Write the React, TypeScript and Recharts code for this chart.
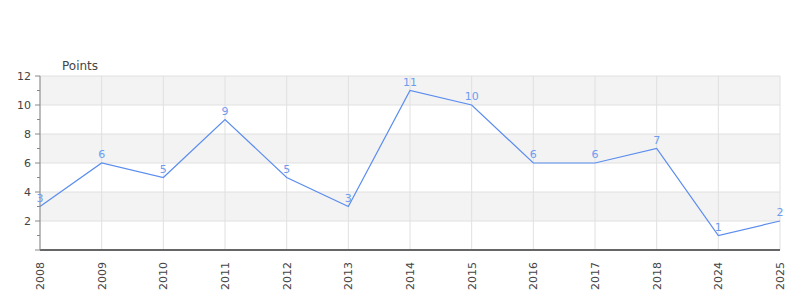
import {CartesianGrid, LabelList, Line, LineChart, ReferenceArea, ReferenceLine, XAxis, YAxis} from "recharts";

const years = ["2008", "2009", "2010", "2011", "2012", "2013", "2014", "2015", "2016", "2017", "2018", "2024", "2025"];
const points = [3, 6, 5, 9, 5, 3, 11, 10, 6, 6, 7, 1, 2];
const yTicks = [0, 1, 2, 3, 4, 5, 6, 7, 8, 9, 10, 11, 12];
const gridValues = [2, 4, 6, 8, 10, 12];
const bands = [[2, 4], [6, 8], [10, 12]];

const data = years.map((year, i) => ({year, points: points[i]}));

const LINE = "#5b8def";
const LABEL = "#6e9cf0";
const TEXT = "#444";
const FONT = "DejaVu Sans, sans-serif";

const YTick = ({x, y, payload}: any) => {
    const v = payload.value as number;
    const major = v % 2 === 0;
    return (
        <g>
            <line x1={x + (major ? 3 : 5)} x2={x + 8} y1={y} y2={y} stroke="#888"/>
            {major && v > 0 && (
                <text x={x - 1} y={y} dy={4} textAnchor="end" fontSize={11} fill={TEXT} fontFamily={FONT}>{v}</text>
            )}
        </g>
    );
};

const XTick = ({x, y, payload}: any) => (
    <text transform={`translate(${x + 4},${y + 4}) rotate(-90)`} textAnchor="end" fontSize={11} fill={TEXT} fontFamily={FONT}>
        {payload.value}
    </text>
);

const App = (): React.JSX.Element => {
    return (
        <div style={{position: "absolute", left: 0, top: 0, width: 800, height: 300, background: "#fff"}}>
            <LineChart data={data} width={800} height={300} margin={{top: 76, right: 20, bottom: 0, left: 0}}>
                <CartesianGrid horizontal={false} vertical={false}/>
                {bands.map(([a, b]) => (
                    <ReferenceArea key={a} y1={a} y2={b} fill="#f3f3f3" fillOpacity={1} stroke="none" ifOverflow="visible"/>
                ))}
                {years.map(yr => (
                    <ReferenceLine key={yr} x={yr} stroke="#e0e0e0"/>
                ))}
                {gridValues.map(v => (
                    <ReferenceLine key={v} y={v} stroke="#e0e0e0"/>
                ))}
                <XAxis dataKey="year" scale="point" padding={{left: 0, right: 0}} height={50}
                       axisLine={{stroke: "#666", strokeWidth: 2}} tickLine={false} tickSize={6} tickMargin={2}
                       interval={0} tick={<XTick/>}/>
                <YAxis domain={[0, 12]} ticks={yTicks} interval={0} width={40} tickLine={false} tickSize={5} tickMargin={3}
                       axisLine={{stroke: "#888"}} tick={<YTick/>}
                       label={{value: "Points", position: "insideTopLeft", dx: 57, dy: -20, fill: TEXT, fontSize: 12, fontFamily: FONT}}/>
                <ReferenceLine y={0} stroke="#e00000"/>
                <Line dataKey="points" type="linear" stroke={LINE} strokeWidth={1.2} dot={false} isAnimationActive={false}>
                    <LabelList dataKey="points" position="top" offset={5} fill={LABEL} fontSize={11} fontFamily={FONT}/>
                </Line>
            </LineChart>
        </div>
    );
};

export default App;
